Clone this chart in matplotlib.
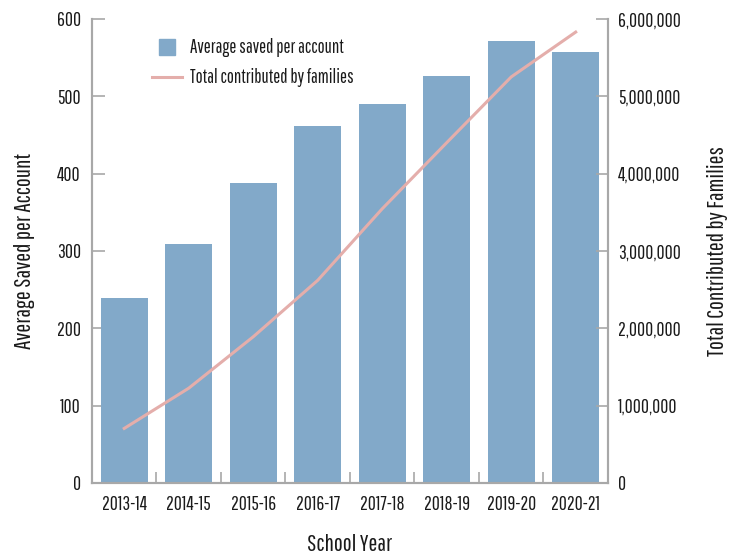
import matplotlib
matplotlib.use("Agg")
import matplotlib.pyplot as plt
from matplotlib.lines import Line2D
from matplotlib.ticker import FuncFormatter, FixedLocator

plt.rcParams['font.family'] = ['Pathway Gothic One', 'DejaVu Sans']

school_years = ["2013-14", "2014-15", "2015-16", "2016-17",
                "2017-18", "2018-19", "2019-20", "2020-21"]
avg_saved = [239, 309, 388, 462, 490, 526, 572, 557]
total_contrib = [705000, 1225000, 1890000, 2620000,
                 3545000, 4400000, 5250000, 5830000]

bar_color = "#82a9c9"
line_color = "#e4aeab"
axis_gray = "#a8a8a8"
text_color = "#1a1a1a"

fig = plt.figure(figsize=(7.36, 5.57), dpi=100)
ax = fig.add_axes([0.125, 0.133, 0.701, 0.833])
ax2 = ax.twinx()

x = list(range(len(school_years)))
ax.bar(x, avg_saved, width=0.73, color=bar_color, zorder=2)
ax2.plot(x, total_contrib, color=line_color, linewidth=2.2, zorder=3)

ax.set_xlim(-0.5, len(school_years) - 0.5)
ax.set_ylim(0, 600)
ax2.set_ylim(0, 6000000)

# category labels centred under bars, tick marks sit between bars
ax.set_xticks(x)
ax.set_xticklabels(school_years)
ax.tick_params(axis="x", which="major", length=0, pad=9,
               labelsize=14, labelcolor=text_color)
ax.xaxis.set_minor_locator(FixedLocator([i + 0.5 for i in x[:-1]]))
ax.tick_params(axis="x", which="minor", direction="in", length=8,
               width=1.2, color=axis_gray)

ax.set_yticks(range(0, 601, 100))
ax.tick_params(axis="y", direction="in", length=9, width=1.2,
               color=axis_gray, pad=8, labelsize=14, labelcolor=text_color)
ax2.set_yticks(range(0, 6000001, 1000000))
ax2.yaxis.set_major_formatter(FuncFormatter(lambda v, p: f"{int(v):,}"))
ax2.tick_params(axis="y", direction="in", length=9, width=1.2,
                color=axis_gray, pad=7, labelsize=14, labelcolor=text_color)

for a in (ax, ax2):
    a.spines["top"].set_visible(False)
    for s in ("left", "right", "bottom"):
        a.spines[s].set_color(axis_gray)
        a.spines[s].set_linewidth(1.5)

ax.set_xlabel("School Year", fontsize=17, color=text_color, labelpad=14)
ax.set_ylabel("Average Saved per Account", fontsize=17, color=text_color,
              labelpad=16)
ax2.set_ylabel("Total Contributed by Families", fontsize=17,
               color=text_color, labelpad=19)

handles = [
    Line2D([], [], marker="s", linestyle="none", markersize=12,
           markerfacecolor=bar_color, markeredgecolor=bar_color),
    Line2D([], [], color=line_color, linewidth=2.2),
]
ax2.legend(handles, ["Average saved per account", "Total contributed by families"],
           loc="upper left", bbox_to_anchor=(0.083, 0.995), frameon=False,
           fontsize=13.5, handlelength=1.6, handletextpad=0.45,
           labelspacing=0.6, labelcolor=text_color)

fig.savefig("out.png", dpi=100)
